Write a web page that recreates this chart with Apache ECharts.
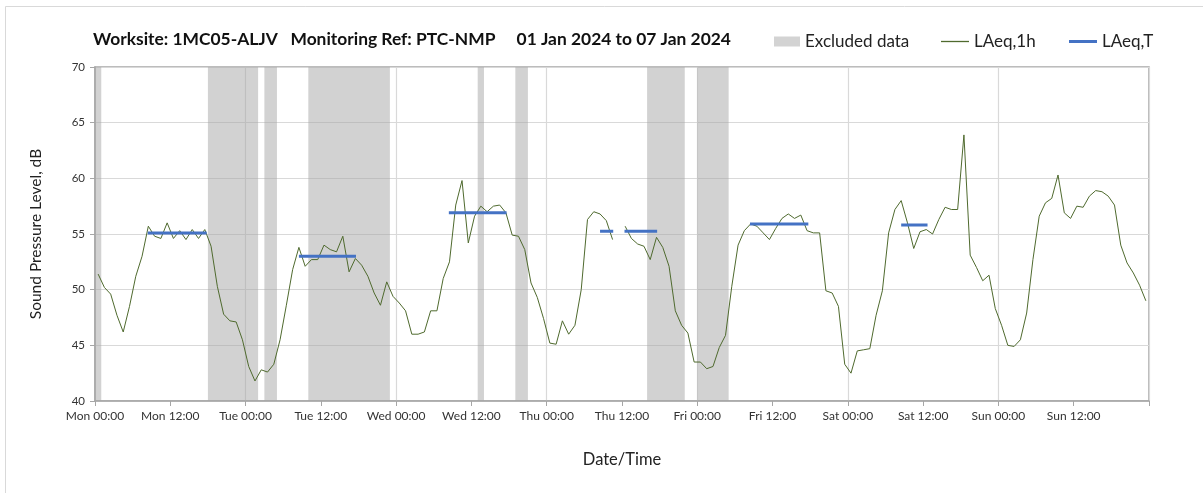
<!DOCTYPE html>
<html><head><meta charset="utf-8">
<script src="https://cdn.jsdelivr.net/npm/echarts@6/dist/echarts.min.js"></script>
<style>html,body{margin:0;padding:0;background:#fff}#c{width:1203px;height:493px}</style>
</head><body><div id="c"></div>
<script>
// x axis in hours from Mon 00:00
const xTickLabels = ['Mon 00:00','Mon 12:00','Tue 00:00','Tue 12:00','Wed 00:00','Wed 12:00','Thu 00:00','Thu 12:00','Fri 00:00','Fri 12:00','Sat 00:00','Sat 12:00','Sun 00:00','Sun 12:00',''];
// hourly LAeq,1h; index i is the hour starting at i h (plotted at mid-hour)
const laeq1h = [
51.4,50.2,49.6,47.7,46.2,48.5,51.2,53.0,55.7,54.8,54.6,56.0,54.6,55.3,54.5,55.4,54.6,55.4,53.9,50.3,47.8,47.2,47.1,45.5,
43.1,41.8,42.8,42.6,43.3,45.5,48.6,51.8,53.8,52.1,52.7,52.7,54.0,53.6,53.4,54.8,51.6,52.8,52.2,51.2,49.7,48.6,50.7,49.4,
48.8,48.1,46.0,46.0,46.2,48.1,48.1,51.0,52.5,57.6,59.8,54.2,56.6,57.5,57.0,57.5,57.6,56.9,54.9,54.8,53.6,50.6,49.3,47.4,
45.2,45.1,47.2,46.0,46.8,50.0,56.3,57.0,56.8,56.2,54.5,null,55.7,54.6,54.1,53.9,52.7,54.7,53.8,52.1,48.1,46.8,46.1,43.5,
43.5,42.9,43.1,44.8,45.9,50.3,54.0,55.3,55.9,55.7,55.1,54.5,55.5,56.4,56.8,56.4,56.7,55.3,55.1,55.1,49.9,49.7,48.5,43.3,
42.5,44.5,44.6,44.7,47.7,49.9,55.1,57.2,58.0,56.0,53.7,55.2,55.4,55.0,56.3,57.4,57.2,57.2,63.9,53.1,52.0,50.8,51.3,48.3,
46.8,45.0,44.9,45.5,47.9,52.7,56.6,57.8,58.2,60.3,56.9,56.4,57.5,57.4,58.4,58.9,58.8,58.4,57.6,54.0,52.4,51.5,50.4,49.0
];
const excludedStart = [0,18,27,34,61,67,88,96];
const excludedEnd   = [1,26,29,47,62,69,94,101];
const laeqTStart = [8.4,32.5,56.4,80.5,84.4,104.4,128.5];
const laeqTEnd   = [17.8,41.6,65.6,82.6,89.6,113.7,132.7];
const laeqTLevel = [55.1,53.0,56.9,55.25,55.25,55.9,55.8];

const FONT = 'Lato';
const chart = echarts.init(document.getElementById('c'), null, {renderer:'canvas'});

const tSeries = laeqTStart.map((s,i)=>({
  name:'LAeq,T', type:'line', symbol:'none', z:4,
  lineStyle:{color:'#4472c4', width:3, cap:'butt'}, itemStyle:{color:'#4472c4'},
  data:[[s, laeqTLevel[i]],[laeqTEnd[i], laeqTLevel[i]]]
}));

const legendText = {fontSize:17, color:'#222', fontFamily:FONT};
chart.setOption({
  animation:false,
  backgroundColor:'#fff',
  title:{text:'Worksite: 1MC05-ALJV   Monitoring Ref: PTC-NMP     01 Jan 2024 to 07 Jan 2024',
    left:93, top:31, padding:0, textStyle:{fontSize:17.4, fontWeight:'bold', color:'#111', fontFamily:FONT}},
  legend:[
    {data:[{name:'Excluded data', icon:'rect'}], left:774, top:33, padding:0, itemWidth:26, itemHeight:10, textStyle:legendText},
    {data:[{name:'LAeq,1h', icon:'rect'}], left:941, top:33, padding:0, itemWidth:28, itemHeight:1.3, textStyle:legendText},
    {data:[{name:'LAeq,T', icon:'rect'}], left:1069, top:33, padding:0, itemWidth:28, itemHeight:3, textStyle:legendText}
  ],
  graphic:[{type:'rect', silent:true, z:-10, shape:{x:5.5, y:6.5, width:1300, height:600}, style:{fill:'none', stroke:'#d9d9d9', lineWidth:1}}],
  grid:{left:95, right:54, top:67, bottom:92, show:true, borderColor:'#a6a6a6', borderWidth:1.5, backgroundColor:'rgba(0,0,0,0)'},
  xAxis:[
    {type:'value', min:0, max:168, interval:12, position:'bottom',
     axisLine:{lineStyle:{color:'#a6a6a6', width:1.5}},
     axisTick:{length:5, lineStyle:{color:'#a6a6a6'}},
     axisLabel:{formatter:v=>xTickLabels[Math.round(v/12)], color:'#333', fontSize:12, fontFamily:FONT, margin:9},
     splitLine:{show:false},
     name:'Date/Time', nameLocation:'middle', nameGap:50, nameTextStyle:{fontSize:16.5, color:'#222', fontFamily:FONT}},
    {type:'value', min:0, max:168, interval:24, position:'bottom',
     axisLine:{show:false}, axisTick:{show:false}, axisLabel:{show:false},
     splitLine:{show:true, lineStyle:{color:'#d9d9d9', width:1.2}}}
  ],
  yAxis:{type:'value', min:40, max:70, interval:5,
    axisLine:{show:true, lineStyle:{color:'#a6a6a6', width:1.5}},
    axisTick:{show:true, length:5, lineStyle:{color:'#a6a6a6'}},
    axisLabel:{color:'#333', fontSize:11.5, fontFamily:FONT, margin:10},
    splitLine:{lineStyle:{color:'#d9d9d9', width:1.2}},
    name:'Sound Pressure Level, dB', nameLocation:'middle', nameGap:51,
    nameTextStyle:{fontSize:15.5, color:'#222', fontFamily:FONT}},
  series:[
    {name:'Excluded data', type:'line', data:[], symbol:'none', z:1,
     itemStyle:{color:'#d3d3d3'}, lineStyle:{color:'#d3d3d3'},
     markArea:{silent:true, itemStyle:{color:'rgba(165,165,165,0.5)'},
       data: excludedStart.map((s,i)=>[{xAxis:s},{xAxis:excludedEnd[i]}])}},
    {name:'LAeq,1h', type:'line', symbol:'none', z:3,
     lineStyle:{color:'#4f6a2e', width:1}, itemStyle:{color:'#4f6a2e'},
     data: laeq1h.map((v,i)=>[i+0.5, v==null?'-':v])},
    ...tSeries
  ]
});
</script></body></html>
